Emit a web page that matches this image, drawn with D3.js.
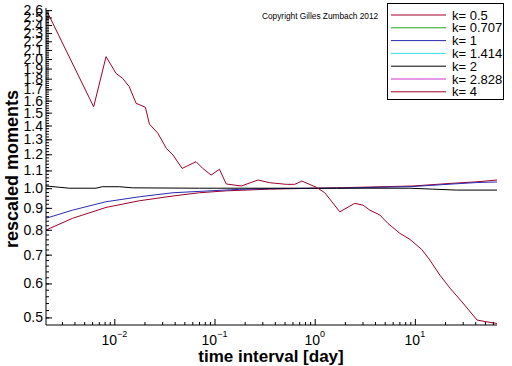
<!DOCTYPE html>
<html><head><meta charset="utf-8">
<script src="https://cdn.jsdelivr.net/npm/d3@7"></script>
<style>
html,body{margin:0;padding:0;background:#fff;}
svg{display:block;}
text{font-family:"Liberation Sans",Arial,Helvetica,sans-serif;fill:#000;}
</style></head>
<body><svg id="c" width="512" height="366"></svg>
<script>
// ---- data ----
const seriesNames = ["k=0.5","k=0.707","k=1","k=1.414","k=2","k=2.828","k=4"];
const seriesColors = ["#a00028","#1fa81f","#2b2bb0","#33dddd","#000000","#cc33cc","#a00028"];

const timeK05 = [0.00208,0.00383,0.00827,0.0178,0.0385,0.0708,0.131,0.355,1.65,9.55,22.4,41.7,66];
const momK05  = [0.799,0.851,0.902,0.935,0.959,0.976,0.986,0.995,1.002,1.012,1.026,1.035,1.045];

const timeK1 = [0.00208,0.00383,0.00827,0.0178,0.0385,0.178,0.355,1.65,9.55,22.4,41.7,66];
const momK1  = [0.851,0.889,0.930,0.955,0.976,0.994,0.998,1.000,1.009,1.022,1.031,1.034];

const timeK2 = [0.00208,0.00355,0.00656,0.00759,0.0112,0.0152,0.0708,0.380,1.65,8.91,15.1,26.1,66];
const momK2  = [1.012,1.000,1.000,1.008,1.008,1.002,1.000,1.000,1.000,1.000,0.995,0.990,0.990];

const timeK4 = [0.00215,0.00622,0.00827,0.0104,0.0121,0.0141,0.0165,0.0204,0.0224,0.0272,0.0330,0.0385,0.0475,0.0654,0.0763,0.0925,0.112,0.131,0.185,0.272,0.355,0.521,0.631,0.746,1.04,1.26,1.78,2.51,3.04,3.55,4.47,5.38,7.08,8.91,11.7,14.1,17.8,22.4,30.2,41.7,52.5,66];
const momK4  = [2.57,1.548,2.026,1.852,1.803,1.724,1.577,1.544,1.411,1.343,1.239,1.195,1.112,1.153,1.112,1.073,1.107,1.023,1.012,1.045,1.030,1.021,1.021,1.039,1.005,0.976,0.881,0.922,0.913,0.889,0.866,0.828,0.785,0.760,0.720,0.680,0.627,0.585,0.540,0.493,0.488,0.484];

const yTickLabels = [0.5,0.6,0.7,0.8,0.9,1.0,1.1,1.2,1.3,1.4,1.5,1.6,1.7,1.8,1.9,2.0,2.1,2.2,2.3,2.4,2.5,2.6];
const xTickExponents = [-2,-1,0,1];

// ---- chart ----
const svg = d3.select("#c");
const x = d3.scaleLog().domain([0.00208,66]).range([46,497]);
const y = d3.scaleLog().domain([0.48,2.63]).range([325,8]);

const lines = [
  {name:"k=0.5", t:timeK05, m:momK05, color:seriesColors[0]},
  {name:"k=1", t:timeK1, m:momK1, color:seriesColors[2]},
  {name:"k=2", t:timeK2, m:momK2, color:seriesColors[4]},
  {name:"k=4", t:timeK4, m:momK4, color:seriesColors[6]}
];
const lineGen = d3.line().x(d=>x(d[0])).y(d=>y(d[1]));
svg.append("g").selectAll("path").data(lines).join("path")
  .attr("d", s => lineGen(s.t.map((t,i)=>[t,s.m[i]])))
  .attr("fill","none").attr("stroke", s=>s.color).attr("stroke-width",1);

// y axis
const yMinor = d3.range(0.5,2.6001,0.02).map(v=>+v.toFixed(2));
const gy = svg.append("g").attr("transform","translate(46,0)");
gy.call(d3.axisRight(y).tickValues(yMinor).tickSize(3).tickFormat(""));
gy.call(g=>g.selectAll(".domain").remove());
gy.append("g").call(d3.axisRight(y).tickValues(yTickLabels).tickSize(6).tickFormat(""))
  .call(g=>g.select(".domain").remove());
gy.append("line").attr("x1",0).attr("x2",0).attr("y1",8).attr("y2",325).attr("stroke","#000");
gy.selectAll(".tick line").attr("stroke","#000");
svg.append("g").selectAll("text").data(yTickLabels).join("text")
  .attr("x",43).attr("y",d=>y(d)).attr("dy","0.36em")
  .attr("text-anchor","end").attr("font-size",14)
  .text(d=>d.toFixed(1));

// x axis
const xMinor = [];
for (let e=-3;e<=1;e++) for (let k=2;k<=9;k++){const v=k*Math.pow(10,e); if(v>=0.00208&&v<=66) xMinor.push(v);}
const gx = svg.append("g").attr("transform","translate(0,325)");
gx.call(d3.axisTop(x).tickValues(xMinor).tickSize(3).tickFormat(""));
gx.select(".domain").remove();
gx.append("g").call(d3.axisTop(x).tickValues(xTickExponents.map(e=>Math.pow(10,e))).tickSize(6).tickFormat(""))
  .call(g=>g.select(".domain").remove());
gx.append("line").attr("x1",46).attr("x2",497).attr("stroke","#000");
gx.selectAll(".tick line").attr("stroke","#000");
const xl = svg.append("g").selectAll("text").data(xTickExponents).join("text")
  .attr("x",d=>x(Math.pow(10,d))).attr("y",345).attr("text-anchor","middle").attr("font-size",14);
xl.append("tspan").text("10");
xl.append("tspan").attr("font-size",9).attr("dy",-8).text(d=>String(d).replace("-","\u2212"));

// titles
svg.append("text").attr("x",271).attr("y",362).attr("text-anchor","middle")
  .attr("font-size",17).attr("font-weight","bold").text("time interval [day]");
svg.append("text").attr("transform","translate(18,169) rotate(-90)").attr("text-anchor","middle")
  .attr("font-size",18).attr("font-weight","bold").text("rescaled moments");
svg.append("text").attr("x",262).attr("y",19).attr("font-size",8.3).text("Copyright Gilles Zumbach 2012");

// legend
const lg = svg.append("g");
lg.append("rect").attr("x",387.5).attr("y",3.5).attr("width",116).attr("height",96)
  .attr("fill","#fff").attr("stroke","#000");
const items = lg.selectAll("g.it").data(seriesNames).join("g").attr("class","it")
  .attr("transform",(d,i)=>`translate(0,${15+i*12.8})`);
items.append("line").attr("x1",391).attr("x2",446).attr("stroke",(d,i)=>seriesColors[i]);
items.append("text").attr("x",452).attr("y",0).attr("dy","0.36em").attr("font-size",13)
  .text(d=>d.replace("=","= "));
</script></body></html>
